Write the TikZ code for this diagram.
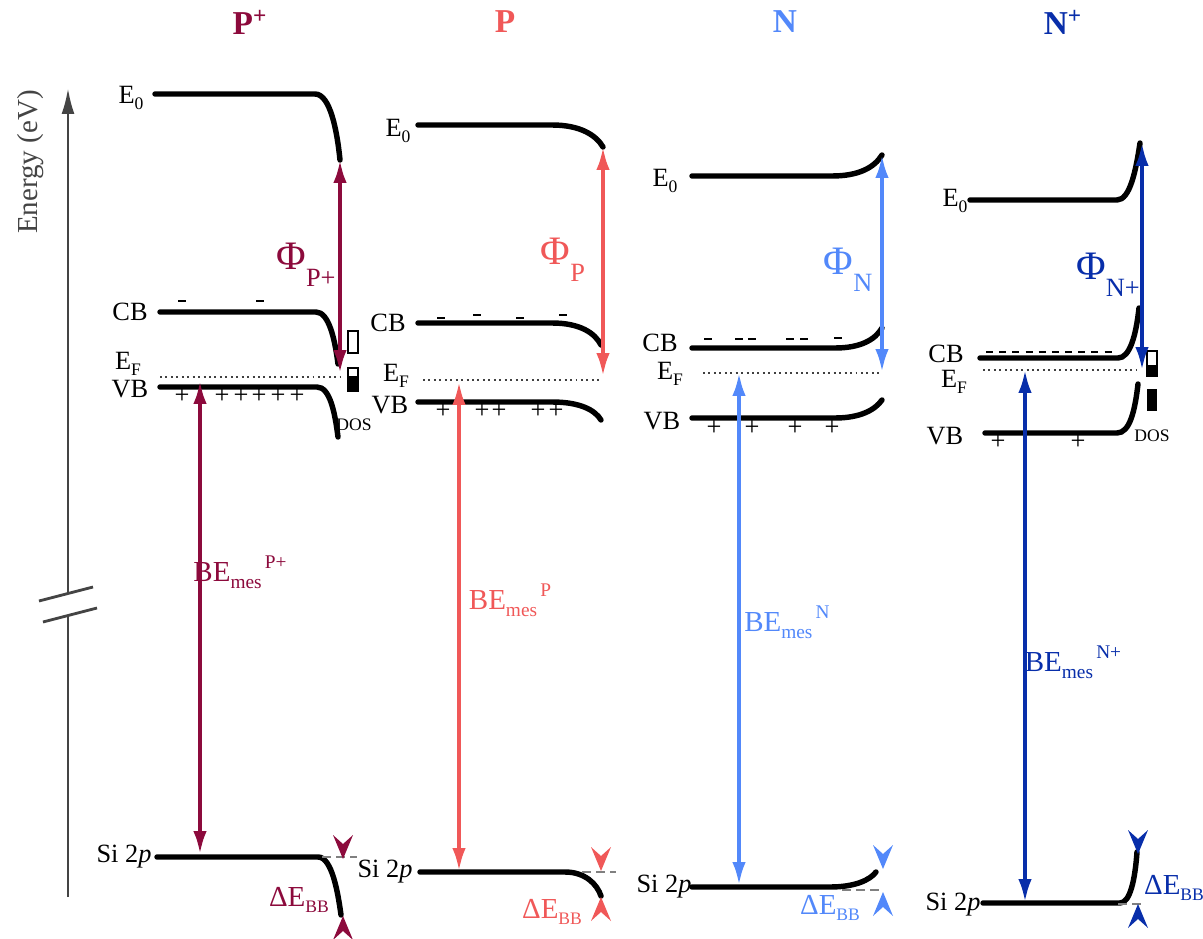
\documentclass[tikz,border=0pt]{standalone}
\usepackage{fontspec}
\setmainfont{Liberation Serif}
\usetikzlibrary{arrows.meta}
\definecolor{cPp}{RGB}{140,10,60}
\definecolor{cP}{RGB}{240,88,88}
\definecolor{cN}{RGB}{82,136,250}
\definecolor{cNp}{RGB}{8,46,170}
\definecolor{axgray}{RGB}{68,68,68}
\newcommand\lowsub[1]{\raisebox{-0.45ex}{\fontsize{10}{10}\selectfont #1}}
\newcommand\phisub[1]{\raisebox{-0.9ex}{\fontsize{15}{15}\selectfont #1}}
\newcommand\bemes[1]{BE\raisebox{-0.5ex}{\fontsize{11}{11}\selectfont mes}\raisebox{1.0ex}{\fontsize{11}{11}\selectfont\,#1}}
% chevron arrowheads: \tipdown{colour}{x}{ytip}, \tipup{colour}{x}{ytip}
\newcommand\tipdown[3]{\fill[#1] (#2,#3) -- ++(-10,-24) -- ++(10,9) -- ++(10,-9) -- cycle;}
\newcommand\tipup[3]{\fill[#1] (#2,#3) -- ++(-10,24) -- ++(10,-9) -- ++(10,9) -- cycle;}
\begin{document}
\begin{tikzpicture}[x=0.02cm,y=-0.02cm,
  band/.style={line width=3.1pt,line cap=round},
  fermi/.style={dotted,line width=1.1pt,black!75},
  lbl/.style={font=\fontsize{15}{17}\selectfont,inner sep=0pt},
  hdr/.style={font=\fontsize{19}{22}\selectfont\bfseries,inner sep=0pt},
  philbl/.style={font=\fontsize{23}{25}\selectfont,inner sep=0pt},
  belbl/.style={font=\fontsize{16.5}{18}\selectfont,inner sep=0pt},
  pmark/.style={font=\fontsize{15}{15}\selectfont,inner sep=0pt},
  mmark/.style={line width=1.3pt},
  dostext/.style={font=\fontsize{10}{10}\selectfont,inner sep=0pt},
  dbl/.style={line width=2.1pt,{Latex[length=0.46cm,width=0.27cm]}-{Latex[length=0.46cm,width=0.27cm]}},
  sidash/.style={dashed,line width=1pt,gray,dash pattern=on 5pt off 3pt}]
\useasboundingbox (0,0) rectangle (1203,939);

% axis
\coordinate (axbot) at (68,897);
\coordinate (axbrk1) at (68,616);
\coordinate (axbrk2) at (68,594);
\coordinate (axtop) at (68,88);
\draw[axgray,line width=1.6pt] (axbot) -- (axbrk1);
\draw[axgray,line width=1.6pt,-{Latex[length=0.52cm,width=0.26cm]}] (axbrk2) -- (axtop);
\draw[axgray,line width=1.6pt] (39,601) -- (93,587);
\draw[axgray,line width=1.6pt] (43,622) -- (97,608);
\node[axgray,rotate=90,font=\fontsize{16.5}{18}\selectfont,inner sep=0pt] (energy) at (31,162) {Energy (eV)};

% headers
\node[hdr,text=cPp] (hPp) at (250,22) {P\textsuperscript{+}};
\node[hdr,text=cP] (hP) at (505,22) {P};
\node[hdr,text=cN] (hN) at (785,22) {N};
\node[hdr,text=cNp] (hNp) at (1063,22) {N\textsuperscript{+}};

%%%%%%%%%%%% P+ panel
\node[lbl] (ppE0) at (131,98) {E\lowsub{0}};
\node[lbl] (ppCB) at (130,312) {CB};
\node[lbl] (ppEF) at (128,364) {E\lowsub{F}};
\node[lbl] (ppVB) at (130,389) {VB};
\node[lbl] (ppSi) at (124,857) {Si 2\textit{p}};
\draw[band] (155,94) -- (315,94) .. controls (330,94) and (337,130) .. (340,160);
\draw[band] (160,312) -- (316,312) .. controls (329,312) and (335,340) .. (338,364);
\draw[band] (160,387) -- (317,387) .. controls (330,387) and (335,413) .. (338,437);
\draw[band] (157,857) -- (318,857) .. controls (332,857) and (338,893) .. (341,915);
\draw[fermi] (160,377) -- (340,377);
\draw[sidash] (322,857) -- (357,857);
\draw[mmark] (178,301) -- (186,301) (256,301) -- (264,301);
\foreach \x in {182,222,241,259,278,297} \node[pmark] at (\x,396) {+};
\draw[line width=1pt] (348,331) rectangle (358,353);
\fill (348,376) rectangle (358,391);
\draw[line width=1pt] (348,368) rectangle (358,391);
\node[dostext] (ppDOS) at (354,425) {DOS};
\coordinate (ppPhiT) at (340,160);
\coordinate (ppPhiB) at (340,373);
\draw[dbl,cPp] (ppPhiT) -- (ppPhiB);
\node[philbl,text=cPp] (ppPhi) at (306,265) {Φ\phisub{P+}};
\coordinate (ppBET) at (200,381);
\coordinate (ppBEB) at (200,854);
\draw[dbl,cPp] (ppBET) -- (ppBEB);
\node[belbl,text=cPp] (ppBE) at (240,572) {\bemes{P+}};
\tipdown{cPp}{343}{859}
\tipup{cPp}{343}{916}
\node[belbl,text=cPp] (ppdE) at (299,900) {ΔE\lowsub{BB}};

%%%%%%%%%%%% P panel
\node[lbl] (pE0) at (398,131) {E\lowsub{0}};
\node[lbl] (pCB) at (388,323) {CB};
\node[lbl] (pEF) at (396,376) {E\lowsub{F}};
\node[lbl] (pVB) at (390,405) {VB};
\node[lbl] (pSi) at (385,872) {Si 2\textit{p}};
\draw[band] (418,125) -- (552,125) .. controls (580,125) and (596,135) .. (603,147);
\draw[band] (418,323) -- (552,323) .. controls (580,323) and (595,333) .. (601,345);
\draw[band] (418,402) -- (552,402) .. controls (580,402) and (595,410) .. (601,420);
\draw[band] (420,872) -- (565,872) .. controls (585,872) and (597,884) .. (601,896);
\draw[fermi] (423,380) -- (600,380);
\draw[sidash] (582,872) -- (616,872);
\draw[mmark] (437,318) -- (445,318) (473,315) -- (481,315) (516,318) -- (524,318) (559,315) -- (567,315);
\foreach \x in {443,482,499,538,556} \node[pmark] at (\x,411) {+};
\coordinate (pPhiT) at (603,147);
\coordinate (pPhiB) at (603,376);
\draw[dbl,cP] (pPhiT) -- (pPhiB);
\node[philbl,text=cP] (pPhi) at (563,260) {Φ\phisub{P}};
\coordinate (pBET) at (459,382);
\coordinate (pBEB) at (459,871);
\draw[dbl,cP] (pBET) -- (pBEB);
\node[belbl,text=cP] (pBE) at (510,600) {\bemes{P}};
\tipdown{cP}{601}{871}
\tipup{cP}{601}{897}
\node[belbl,text=cP] (pdE) at (552,912) {ΔE\lowsub{BB}};

%%%%%%%%%%%% N panel
\node[lbl] (nE0) at (665,181) {E\lowsub{0}};
\node[lbl] (nCB) at (660,343) {CB};
\node[lbl] (nEF) at (670,374) {E\lowsub{F}};
\node[lbl] (nVB) at (662,421) {VB};
\node[lbl] (nSi) at (664,887) {Si 2\textit{p}};
\draw[band] (692,176) -- (832,176) .. controls (858,176) and (874,168) .. (882,155);
\draw[band] (692,348) -- (835,348) .. controls (860,348) and (875,340) .. (882,328);
\draw[band] (692,418) -- (835,418) .. controls (860,418) and (875,410) .. (882,400);
\draw[band] (692,887) -- (830,887) .. controls (855,887) and (870,880) .. (876,872);
\draw[fermi] (703,373) -- (882,373);
\draw[sidash] (842,890) -- (882,890);
\draw[mmark] (704,339) -- (712,339) (735,339) -- (743,339) (748,339) -- (756,339) (786,339) -- (794,339) (800,339) -- (808,339) (834,338) -- (842,338);
\foreach \x in {714,752,795,832} \node[pmark] at (\x,428) {+};
\coordinate (nPhiT) at (882,155);
\coordinate (nPhiB) at (882,372);
\draw[dbl,cN] (nPhiT) -- (nPhiB);
\node[philbl,text=cN] (nPhi) at (848,270) {Φ\phisub{N}};
\coordinate (nBET) at (739,373);
\coordinate (nBEB) at (739,885);
\draw[dbl,cN] (nBET) -- (nBEB);
\node[belbl,text=cN] (nBE) at (787,622) {\bemes{N}};
\tipdown{cN}{883}{869}
\tipup{cN}{883}{892}
\node[belbl,text=cN] (ndE) at (830,908) {ΔE\lowsub{BB}};

%%%%%%%%%%%% N+ panel
\node[lbl] (npE0) at (955,201) {E\lowsub{0}};
\node[lbl] (npCB) at (946,354) {CB};
\node[lbl] (npEF) at (954,382) {E\lowsub{F}};
\node[lbl] (npVB) at (945,436) {VB};
\node[lbl] (npSi) at (953,905) {Si 2\textit{p}};
\draw[band] (970,200) -- (1117,200) .. controls (1130,200) and (1136,170) .. (1140,143);
\draw[band] (980,358) -- (1118,358) .. controls (1130,358) and (1136,335) .. (1139,308);
\draw[band] (985,433) -- (1117,433) .. controls (1130,433) and (1135,410) .. (1138,384);
\draw[band] (983,903) -- (1120,903) .. controls (1130,903) and (1135,880) .. (1137,852);
\draw[fermi] (983,370) -- (1140,370);
\draw[sidash] (1118,904) -- (1144,904);
\draw[line width=1.2pt,dash pattern=on 4pt off 3.5pt] (986,352) -- (1112,352);
\foreach \x in {998,1078} \node[pmark] at (\x,442) {+};
\draw[line width=1pt] (1147,351) rectangle (1157,376);
\fill (1147,365) rectangle (1157,376);
\fill (1147,389) rectangle (1157,411);
\node[dostext] (npDOS) at (1152,436) {DOS};
\coordinate (npPhiT) at (1142,143);
\coordinate (npPhiB) at (1142,370);
\draw[dbl,cNp] (npPhiT) -- (npPhiB);
\node[philbl,text=cNp] (npPhi) at (1108,275) {Φ\phisub{N+}};
\coordinate (npBET) at (1025,370);
\coordinate (npBEB) at (1025,902);
\draw[dbl,cNp] (npBET) -- (npBEB);
\node[belbl,text=cNp] (npBE) at (1073,662) {\bemes{N+}};
\tipdown{cNp}{1138}{854}
\tipup{cNp}{1138}{904}
\node[belbl,text=cNp] (npdE) at (1174,888) {ΔE\lowsub{BB}};
\end{tikzpicture}
\end{document}
